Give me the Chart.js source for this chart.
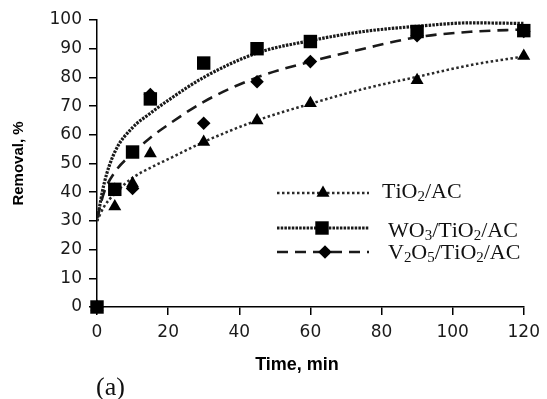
<!DOCTYPE html>
<html>
<head>
<meta charset="utf-8">
<script src="https://cdn.jsdelivr.net/npm/chart.js@4.4.1/dist/chart.umd.min.js"></script>
<style>
  html, body { margin: 0; padding: 0; background: #fff; }
  #wrap { width: 547px; height: 399px; }
</style>
</head>
<body>
<div id="wrap"><canvas id="grafico" width="547" height="399"></canvas></div>
<script>
// measured points (time in min, removal in %)
const tempos = [0, 5, 10, 15, 30, 45, 60, 90, 120];
const tio2 = [0, 35, 43, 53.5, 57.5, 65, 71, 79, 87.5];
const wo3 = [0, 41, 54, 72.5, 85, 90, 92.5, 96, 96.3];
const v2o5 = [0, 41, 41.3, 74, 64, 78.5, 85.5, 94.5, 96];

// fitted curves
const temposAjuste = [0, 2, 5, 10, 15, 20, 30, 45, 60, 75, 90, 105, 120];
const tio2Ajuste = [30, 35, 39.5, 45, 48.5, 51.5, 57.5, 65, 70.8, 76, 80.2, 84.3, 87.3];
const wo3Ajuste = [30, 43, 54, 62.5, 67.5, 72, 80, 88.5, 92.8, 96, 97.8, 99, 98.8];
const v2o5Ajuste = [31, 40, 47, 53.5, 59, 63.5, 71.5, 80, 85.5, 90, 94, 95.9, 96.7];

const xTicks = [0, 20, 40, 60, 80, 100, 120];
const yTicks = [0, 10, 20, 30, 40, 50, 60, 70, 80, 90, 100];

const legendas = ['TiO2/AC', 'WO3/TiO2/AC', 'V2O5/TiO2/AC'];
const tituloX = 'Time, min';
const tituloY = 'Removal, %';

const pontos = (xs, ys) => xs.map((x, i) => ({ x: x, y: ys[i] }));

const estilos = [
    { dash: [2.5, 2.5], largura: 2.5, cor: '#2a2a2a', marcador: 'triangle', raio: 7.5 },
    { dash: [2.5, 1.2], largura: 3.2, cor: '#1a1a1a', marcador: 'rect', raio: 9.5 },
    { dash: [11, 7], largura: 2.6, cor: '#1a1a1a', marcador: 'rectRot', raio: 6.8 }
];

const dadosMedidos = [tio2, wo3, v2o5];
const dadosAjuste = [tio2Ajuste, wo3Ajuste, v2o5Ajuste];
const ordemMarcador = [3, 1, 2];

const datasets = [];
dadosMedidos.forEach((serie, i) => {
    datasets.push({
        type: 'scatter',
        label: legendas[i],
        data: pontos(tempos, serie),
        showLine: false,
        pointStyle: estilos[i].marcador,
        pointRadius: estilos[i].raio,
        pointHoverRadius: estilos[i].raio,
        backgroundColor: '#000',
        borderColor: '#000',
        borderWidth: 0,
        clip: false,
        order: ordemMarcador[i]
    });
});
dadosAjuste.forEach((serie, i) => {
    datasets.push({
        type: 'line',
        label: legendas[i] + ' fit',
        data: pontos(temposAjuste, serie),
        borderColor: estilos[i].cor,
        borderWidth: estilos[i].largura,
        borderDash: estilos[i].dash,
        pointRadius: 0,
        fill: false,
        cubicInterpolationMode: 'monotone',
        order: 10 + i
    });
});

function desenharMarcador(ctx, tipo, x, y, r) {
    ctx.beginPath();
    if (tipo === 'triangle') {
        ctx.moveTo(x, y - r);
        ctx.lineTo(x + r * Math.sqrt(3) / 2, y + r / 2);
        ctx.lineTo(x - r * Math.sqrt(3) / 2, y + r / 2);
    } else if (tipo === 'rect') {
        const s = r * Math.SQRT1_2;
        ctx.rect(x - s, y - s, 2 * s, 2 * s);
    } else {
        ctx.moveTo(x, y - r);
        ctx.lineTo(x + r, y);
        ctx.lineTo(x, y + r);
        ctx.lineTo(x - r, y);
    }
    ctx.closePath();
    ctx.fill();
}

// text with digits as subscripts
function desenharTexto(ctx, texto, x, y, tamanho) {
    let cx = x;
    for (const ch of texto) {
        const sub = /[0-9]/.test(ch);
        ctx.font = (sub ? tamanho * 0.68 : tamanho) + 'px "Liberation Serif", "Times New Roman", serif';
        ctx.fillText(ch, cx, sub ? y + tamanho * 0.22 : y);
        cx += ctx.measureText(ch).width;
    }
}

const linhasLegenda = [
    { y: 193, yTexto: 192, xMarcador: 323, xTexto: 382 },
    { y: 228, yTexto: 231, xMarcador: 322, xTexto: 388 },
    { y: 252, yTexto: 253, xMarcador: 325, xTexto: 388 }
];

const legendaPlugin = {
    id: 'legendaManual',
    afterDraw(chart) {
        const ctx = chart.ctx;
        ctx.save();
        linhasLegenda.forEach((l, i) => {
            const e = estilos[i];
            ctx.strokeStyle = e.cor;
            ctx.lineWidth = e.largura;
            ctx.setLineDash(e.dash);
            ctx.beginPath();
            ctx.moveTo(277, l.y);
            ctx.lineTo(369, l.y);
            ctx.stroke();
            ctx.setLineDash([]);
            ctx.fillStyle = '#000';
            desenharMarcador(ctx, e.marcador, l.xMarcador, l.y, e.raio);
            ctx.fillStyle = '#111';
            ctx.textBaseline = 'middle';
            ctx.textAlign = 'left';
            desenharTexto(ctx, legendas[i], l.xTexto, l.yTexto, 22);
        });
        // x axis title sits left of the plot centre in the original
        ctx.fillStyle = '#000';
        ctx.font = 'bold 18px "Liberation Sans", Arial, sans-serif';
        ctx.textAlign = 'center';
        ctx.textBaseline = 'middle';
        ctx.fillText(tituloX, 297, 365);
        ctx.fillStyle = '#111';
        ctx.font = '26px "Liberation Serif", serif';
        ctx.textAlign = 'left';
        ctx.fillText('(a)', 96, 388);
        ctx.restore();
    }
};

const gradeEixo = () => ({
    drawOnChartArea: false,
    drawTicks: true,
    tickLength: 8,
    color: '#000',
    lineWidth: 1.5,
    tickColor: '#000',
    tickWidth: 1.5
});

new Chart(document.getElementById('grafico'), {
    data: { datasets: datasets },
    options: {
        responsive: false,
        animation: false,
        devicePixelRatio: 1,
        layout: { padding: { top: 20, right: 18, bottom: 0, left: 0 } },
        plugins: {
            legend: { display: false },
            tooltip: { enabled: false }
        },
        scales: {
            x: {
                type: 'linear',
                min: 0,
                max: 120,
                afterBuildTicks: s => { s.ticks = xTicks.map(v => ({ value: v })); },
                afterFit: s => { s.height = 92; },
                ticks: { color: '#1a1a1a', font: { family: 'DejaVu Sans', size: 17 }, padding: 7, maxRotation: 0 },
                grid: gradeEixo(),
                border: { color: '#000', width: 1.5 },
                title: { display: false, text: tituloX }
            },
            y: {
                type: 'linear',
                min: 0,
                max: 100,
                afterBuildTicks: s => { s.ticks = yTicks.map(v => ({ value: v })); },
                afterFit: s => { s.width = 97; },
                ticks: { color: '#1a1a1a', font: { family: 'DejaVu Sans', size: 17 }, padding: 7 },
                grid: gradeEixo(),
                border: { color: '#000', width: 1.5 },
                title: {
                    display: true,
                    text: tituloY,
                    color: '#000',
                    font: { family: 'Liberation Sans', weight: 'bold', size: 15 },
                    padding: { top: 10, bottom: 0 }
                }
            }
        }
    },
    plugins: [legendaPlugin]
});
</script>
</body>
</html>
